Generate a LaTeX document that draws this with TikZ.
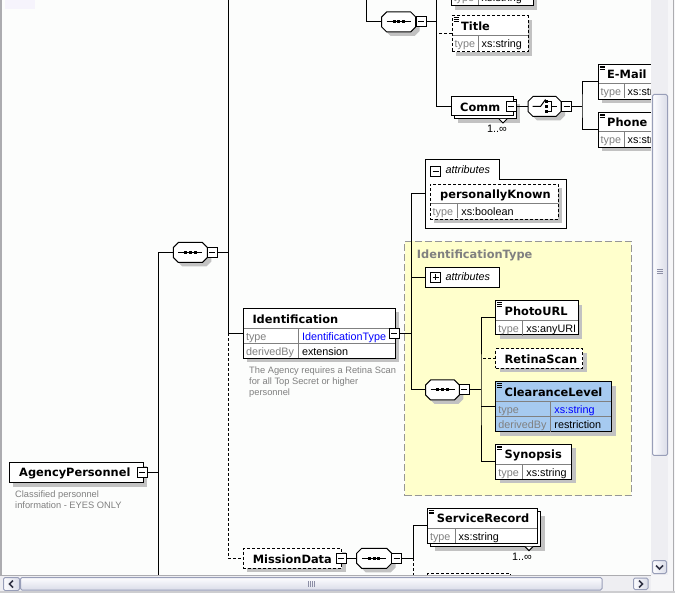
\documentclass[tikz,border=0pt]{standalone}
\usepackage{fontspec}
\setmainfont{Liberation Sans}
\newfontfamily\hdrfont{DejaVu Sans}
\usetikzlibrary{shadows}

\definecolor{canvasbg}{RGB}{252,253,252}
\definecolor{shadowgray}{RGB}{194,194,194}
\definecolor{labelgray}{RGB}{128,128,128}
\definecolor{rulegray}{RGB}{128,128,128}
\definecolor{typeblue}{RGB}{0,0,255}
\definecolor{complexyellow}{RGB}{255,255,204}
\definecolor{complexborder}{RGB}{150,150,150}
\definecolor{selblue}{RGB}{166,202,240}
\definecolor{trackgray}{RGB}{238,238,242}
\definecolor{cornergray}{RGB}{246,246,248}
\definecolor{thumbedge}{RGB}{152,158,184}
\definecolor{thumblight}{RGB}{253,253,255}
\definecolor{thumbdark}{RGB}{218,220,232}
\definecolor{framegray}{RGB}{172,172,176}
\definecolor{gripgray}{RGB}{140,142,165}
\definecolor{chevron}{RGB}{50,52,70}
\definecolor{tablav}{RGB}{246,244,252}

\tikzset{
  shd/.style={drop shadow={shadow xshift=4pt, shadow yshift=-4pt, opacity=1, fill=shadowgray, draw=none}},
  elem/.style={draw=black, fill=white, line width=1pt, inner sep=0pt, outer sep=0pt, anchor=north west},
  opt/.style={dash pattern=on 3pt off 2pt},
  hdr/.style={font=\hdrfont\bfseries\fontsize{11.4}{13}\selectfont, anchor=base west, inner sep=0pt},
  cell/.style={font=\fontsize{10.8}{13}\selectfont, anchor=base west, inner sep=0pt},
  lbl/.style={cell, text=labelgray},
  attrtext/.style={font=\itshape\fontsize{10.8}{13}\selectfont, anchor=base west, inner sep=0pt},
  note/.style={font=\fontsize{9.3}{11}\selectfont, text=labelgray, anchor=base west, inner sep=0pt},
  rowline/.style={draw=rulegray, line width=1pt},
  conn/.style={line width=1pt},
  optconn/.style={line width=1pt, dash pattern=on 3pt off 2pt},
  compositor/.style={inner sep=0pt, outer sep=0pt, minimum width=34pt, minimum height=20pt, anchor=north west},
  octo/.style={draw=black, fill=white, line width=1pt, shd},
  toggle/.style={draw=black, fill=white, line width=1pt, minimum size=10pt, inner sep=0pt, outer sep=0pt},
  tgminus/.style={toggle, path picture={\draw[line width=1pt]
      ([xshift=2pt]path picture bounding box.west) -- ([xshift=-2pt]path picture bounding box.east);}},
  tgplus/.style={toggle, path picture={\draw[line width=1pt]
      ([xshift=2pt]path picture bounding box.west) -- ([xshift=-2pt]path picture bounding box.east)
      ([yshift=-2pt]path picture bounding box.north) -- ([yshift=2pt]path picture bounding box.south);}},
  btn/.style={draw=thumbedge, line width=1pt, rounded corners=1.5pt},
  chev/.style={draw=chevron, line width=1.5pt},
}

% three short rules marking an element with simple content
\newcommand\simpleicon[1]{%
  \foreach \dy in {1.8,3.6,5.4}
    \draw[line width=0.8pt] ([xshift=1.5pt,yshift=-\dy pt]#1.north west) -- ++(5,0);}

% one "name | value" row of an element box
% #1 name, #2 left, #3 right, #4 row top, #5 column x, #6 label, #7 value
\newcommand\typerow[7]{%
  \draw[rowline] (#2+0.5,#4) -- (#3-0.5,#4);
  \draw[rowline] (#5,#4) -- (#5,#4+15);
  \node[lbl] (#1-l) at (#2+2.5,#4+12) {#6};
  \node[cell] (#1-v) at (#5+3.5,#4+12) {#7};}

% octagonal outline of a compositor node
\newcommand\octagon[1]{%
  \path[octo] ([xshift=5pt]#1.north west) -- ([xshift=-5pt]#1.north east)
    -- ([yshift=-5pt]#1.north east) -- ([yshift=5pt]#1.south east)
    -- ([xshift=-5pt]#1.south east) -- ([xshift=5pt]#1.south west)
    -- ([yshift=5pt]#1.south west) -- ([yshift=-5pt]#1.north west) -- cycle;}

% sequence compositor glyph
\newcommand\seqsymbol[1]{%
  \octagon{#1}
  \draw[line width=1pt] ([xshift=-12pt]#1.center) -- ([xshift=12pt]#1.center);
  \foreach \dx in {-4.7,0,4.7}
    \fill ([xshift=\dx pt-1.5pt, yshift=-1.5pt]#1.center) rectangle ++(3,-3);}

% choice compositor glyph
\newcommand\choicesymbol[1]{%
  \octagon{#1}
  \begin{scope}[shift={(#1.center)}]
    \draw[line width=1pt] (-12,0) -- (-4,0) -- (1,-7);
    \foreach \dy in {-5,0,5} \fill (0.5,\dy-1.25) rectangle ++(2.5,2.5);
    \draw[line width=1pt] (3.5,-5) -- (6.5,-5) -- (6.5,5) -- (3.5,5);
    \draw[line width=1pt] (6.5,0) -- (12,0);
  \end{scope}}

\begin{document}
\begin{tikzpicture}[x=1pt,y=-1pt]
\useasboundingbox (0,0) rectangle (675,593);
\fill[canvasbg] (0,0) rectangle (675,593);
\fill[tablav] (5,0) rectangle (35,9);

\begin{scope}
\clip (2,0) rectangle (651,575);

% ---- complex type region ----
\node[draw=complexborder, fill=complexyellow, line width=1pt, dash pattern=on 7pt off 3pt,
      minimum width=226.7pt, minimum height=254pt, anchor=north west, inner sep=0pt]
      (idtype) at (404,241) {};
\node[hdr, text=labelgray] (idtype-t) at (416.7,258.3) {IdentificationType};

% ---- upper branch ----
\node[elem, shd, minimum width=82pt, minimum height=36pt] (prev) at (451,-30) {};
\typerow{prev}{451}{533}{-10}{478}{type}{xs:string}

\node[compositor] (seq0) at (381.7,12) {};
\seqsymbol{seq0}
\node[tgminus] (seq0-t) at (421,22) {};

\node[elem, opt, shd, minimum width=76pt, minimum height=36pt] (title) at (452,16) {};
\simpleicon{title}
\node[hdr] (title-h) at (461,30.5) {Title};
\typerow{title}{452}{528}{36}{478}{type}{xs:string}

\node[elem, shd, minimum width=62pt, minimum height=19pt] (comm-b) at (454,100) {};
\draw[line width=1pt, fill=white] (499,119) -- (503,123) -- (507,119);
\node[elem, minimum width=62pt, minimum height=19pt] (comm) at (451,97) {};
\node[hdr] (comm-h) at (460,111.5) {Comm};
\node[tgminus] (comm-t) at (511,106.5) {};
\node[cell] (comm-n) at (487,133) {1..∞};

\node[compositor, minimum width=33pt] (choice) at (528,96.5) {};
\choicesymbol{choice}
\node[tgminus] (choice-t) at (566.5,106.5) {};

\node[elem, shd, minimum width=92pt, minimum height=35pt] (email) at (598,64.3) {};
\simpleicon{email}
\node[hdr] (email-h) at (607,79) {E-Mail};
\typerow{email}{598}{690}{83.3}{624}{type}{xs:string}

\node[elem, shd, minimum width=92pt, minimum height=35pt] (phone) at (598,112.3) {};
\simpleicon{phone}
\node[hdr] (phone-h) at (607,127) {Phone};
\typerow{phone}{598}{690}{131.7}{624}{type}{xs:string}

% ---- root element ----
\node[elem, shd, minimum width=134pt, minimum height=20.5pt] (root) at (9,462.3) {};
\node[hdr] (root-h) at (19,476.7) {AgencyPersonnel};
\node[tgminus] (root-t) at (142.3,472.6) {};
\node[note] (root-n1) at (15,497.3) {Classified personnel};
\node[note] (root-n2) at (15,508.3) {information - EYES ONLY};

\node[compositor] (seq1) at (173.3,242.5) {};
\seqsymbol{seq1}
\node[tgminus] (seq1-t) at (212.3,252.5) {};

% ---- Identification ----
\node[elem, shd, minimum width=152pt, minimum height=50pt] (ident) at (243.3,308.3) {};
\node[hdr] (ident-h) at (252.3,323.3) {Identification};
\typerow{identA}{243.3}{395.3}{328.3}{298.3}{type}{\textcolor{typeblue}{IdentificationType}}
\typerow{identB}{243.3}{395.3}{343.3}{298.3}{derivedBy}{extension}
\node[tgminus] (ident-t) at (394.3,333.6) {};
\node[note] (ident-n1) at (249,374) {The Agency requires a Retina Scan};
\node[note] (ident-n2) at (249,385) {for all Top Secret or higher};
\node[note] (ident-n3) at (249,395.7) {personnel};

% attribute group with tab
\node[inner sep=0pt, outer sep=0pt, minimum width=141pt, minimum height=49pt, anchor=north west]
      (attrs) at (425.7,179.3) {};
\draw[line width=1pt, fill=white] (attrs.south west) |- (499,160) |- (attrs.north east)
      -- (attrs.south east) -- cycle;
\node[tgminus] (attrs-t) at (435.7,171.2) {};
\node[attrtext] (attrs-l) at (445.5,174) {attributes};

\node[elem, opt, shd, minimum width=128pt, minimum height=35pt] (pk) at (430,184.3) {};
\node[hdr] (pk-h) at (440,199) {personallyKnown};
\typerow{pk}{430}{558}{203.3}{457.7}{type}{xs:boolean}

\node[elem, minimum width=73.3pt, minimum height=20pt] (attrs2) at (425.7,267.3) {};
\node[tgplus] (attrs2-t) at (435.7,277.3) {};
\node[attrtext] (attrs2-l) at (445.5,280.7) {attributes};

\node[compositor, minimum width=33.6pt] (seq3) at (425.7,380) {};
\seqsymbol{seq3}
\node[tgminus] (seq3-t) at (464.3,390) {};

\node[elem, shd, minimum width=82.6pt, minimum height=34.3pt] (photo) at (495.7,300.7) {};
\simpleicon{photo}
\node[hdr] (photo-h) at (504.5,315.2) {PhotoURL};
\typerow{photo}{495.7}{578.3}{321}{522.7}{type}{xs:anyURI}

\node[elem, opt, shd, minimum width=87pt, minimum height=19.3pt] (retina) at (495.7,349) {};
\node[hdr] (retina-h) at (504.5,363.4) {RetinaScan};

\node[elem, shd, fill=selblue, minimum width=116pt, minimum height=50pt] (clear) at (495.7,381.7) {};
\simpleicon{clear}
\node[hdr] (clear-h) at (504.5,396.2) {ClearanceLevel};
\typerow{clearA}{495.7}{611.7}{401.7}{550.7}{type}{\textcolor{typeblue}{xs:string}}
\typerow{clearB}{495.7}{611.7}{416.7}{550.7}{derivedBy}{restriction}

\node[elem, shd, minimum width=76pt, minimum height=35pt] (synopsis) at (495.7,444.3) {};
\simpleicon{synopsis}
\node[hdr] (synopsis-h) at (504.5,458.8) {Synopsis};
\typerow{synopsis}{495.7}{571.7}{464.3}{522.7}{type}{xs:string}

% ---- MissionData ----
\node[elem, opt, shd, minimum width=98.4pt, minimum height=20pt] (mission) at (243.3,548.3) {};
\node[hdr] (mission-h) at (252.7,563.2) {MissionData};
\node[tgminus] (mission-t) at (341,558.3) {};

\node[compositor, minimum width=35pt] (seq4) at (356.7,548.3) {};
\seqsymbol{seq4}
\node[tgminus] (seq4-t) at (396.7,558.3) {};

\node[elem, shd, minimum width=110pt, minimum height=35pt] (svc-b) at (430.5,511.5) {};
\draw[line width=1pt, fill=white] (525,546.7) -- (529,550.7) -- (533,546.7);
\node[elem, minimum width=110pt, minimum height=35pt] (svc) at (427.3,508.3) {};
\simpleicon{svc}
\node[hdr] (svc-h) at (436.7,522.7) {ServiceRecord};
\typerow{svc}{427.3}{537.3}{528.3}{455}{type}{xs:string}
\node[cell] (svc-n) at (512,560) {1..∞};

\node[elem, opt, shd, minimum width=83.4pt, minimum height=30pt] (next) at (427.3,573.3) {};

% ---- connectors ----
\coordinate (topA) at (366,-5);
\coordinate (topB) at (436,-5);
\draw[conn] (topA) |- (seq0.west);
\draw[conn] (seq0-t.east) -- (seq0-t.east -| topB);
\draw[conn] (topB) |- (comm.west);
\draw[optconn] (title.west) -- (title.west -| topB);
\draw[conn] (comm-t.east) -- (choice.west);
\coordinate (busC) at (582,106.5);
\draw[conn] (choice-t.east) -- (busC);
\draw[conn] (email.west) -| (busC) |- (phone.west);

\coordinate (busR) at (158,600);
\draw[conn] (root-t.east) -- (root-t.east -| busR);
\draw[conn] (busR) |- (seq1.west);

\coordinate (busS) at (228,-5);
\draw[conn] (seq1-t.east) -- (seq1-t.east -| busS);
\draw[conn] (busS) |- (ident.west);
\draw[optconn] (ident.west -| busS) |- (mission.west);

\coordinate (busI) at (411,194);
\draw[conn] (ident-t.east) -- (ident-t.east -| busI);
\draw[conn] (busI) -- (busI -| attrs.west);
\draw[conn] (busI) |- (attrs2.west);
\draw[conn] (busI) |- (seq3.west);

\coordinate (busP) at (481,390);
\draw[conn] (seq3-t.east) -- (busP);
\draw[conn] (photo.west) -| (busP) |- (synopsis.west);
\draw[optconn] (retina.west) -- (retina.west -| busP);
\draw[conn] (clear.west) -- (clear.west -| busP);

\draw[conn] (mission-t.east) -- (seq4.west);
\coordinate (busM) at (413,558.3);
\coordinate (busMend) at (413,600);
\draw[conn] (seq4-t.east) -- (busM);
\draw[conn] (busM) |- (svc.west);
\draw[optconn] (busM) -- (busMend);
\end{scope}

% ---- window frame and scroll bars ----
\fill[framegray] (0,0) rectangle (1.5,575);

\fill[trackgray] (651,0) rectangle (668,575);
\fill[cornergray] (668,0) rectangle (675,593);
\draw[framegray, line width=1pt] (673.5,0) -- (673.5,593);
\draw[btn, left color=thumblight, right color=thumbdark] (652.5,94.5) rectangle (667.5,455.5);
\foreach \y in {269.5,271.5,273.5}
  \draw[gripgray, line width=0.8pt] (657,\y) -- (663,\y);
\draw[btn, left color=thumblight, right color=thumbdark] (652.5,560.5) rectangle (666.5,573.5);
\draw[chev] (656,565.5) -- (659.5,569) -- (663,565.5);

\fill[trackgray] (0,575) rectangle (651,591);
\fill[cornergray] (651,575) rectangle (668,593);
\draw[framegray, line width=1pt] (0,575.5) -- (651,575.5);
\draw[btn, left color=thumblight, right color=thumbdark] (3.5,577.5) rectangle (19.5,590.5);
\draw[chev] (13,580.5) -- (9.5,584) -- (13,587.5);
\draw[btn, top color=thumblight, bottom color=thumbdark] (20.5,577.5) rectangle (602,590);
\foreach \x in {308,310,312,314}
  \draw[gripgray, line width=0.8pt] (\x,581) -- (\x,587);
\draw[btn, left color=thumblight, right color=thumbdark] (633.5,578) rectangle (648,589.5);
\draw[chev] (639,580.5) -- (642.5,584) -- (639,587.5);
\fill[framegray!60] (0,591) rectangle (675,593);
\end{tikzpicture}
\end{document}
